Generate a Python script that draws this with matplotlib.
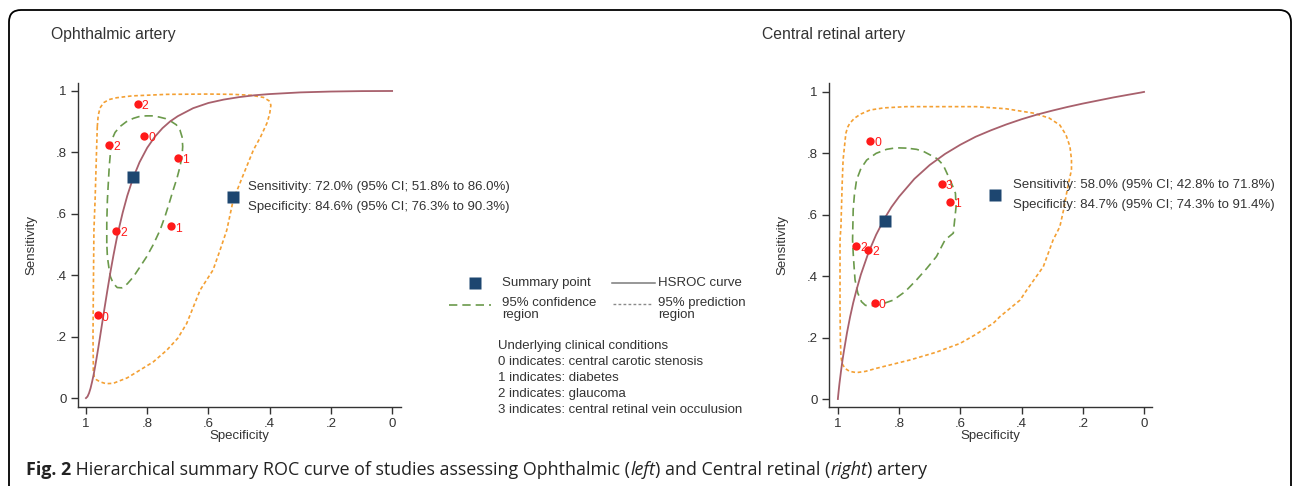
import matplotlib
matplotlib.use('Agg')
import matplotlib.pyplot as plt
from matplotlib.patches import FancyBboxPatch
from matplotlib.lines import Line2D
from matplotlib.transforms import IdentityTransform

plt.rcParams['font.family'] = ['Liberation Sans', 'DejaVu Sans']

# ---------------- data ----------------
# Ophthalmic artery
left_title = "Ophthalmic artery"
left_study_spec = [0.831, 0.810, 0.925, 0.699, 0.721, 0.901, 0.962]
left_study_sens = [0.957, 0.854, 0.824, 0.783, 0.559, 0.545, 0.269]
left_study_cond = ['2', '0', '2', '1', '1', '2', '0']
left_summary = (0.846, 0.720)
left_hsroc_spec = [1.0, 0.995, 0.99, 0.985, 0.98, 0.975, 0.97, 0.965, 0.96, 0.955, 0.95, 0.94,
                   0.93, 0.92, 0.91, 0.90, 0.89, 0.88, 0.865, 0.846, 0.825, 0.80, 0.775, 0.75,
                   0.725, 0.70, 0.65, 0.60, 0.55, 0.50, 0.45, 0.40, 0.30, 0.20, 0.10, 0.0]
left_hsroc_sens = [0.0, 0.005, 0.016, 0.032, 0.053, 0.076, 0.103, 0.132, 0.162, 0.193, 0.225, 0.289,
                   0.351, 0.411, 0.466, 0.517, 0.562, 0.604, 0.659, 0.717, 0.768, 0.815, 0.851, 0.879,
                   0.901, 0.918, 0.944, 0.961, 0.972, 0.980, 0.986, 0.990, 0.9954, 0.9982, 0.9996, 1.0]
left_conf_spec = [0.932, 0.932, 0.930, 0.927, 0.924, 0.920, 0.916, 0.905, 0.889, 0.868, 0.845,
                  0.822, 0.802, 0.780, 0.760, 0.740, 0.725, 0.705, 0.693, 0.686, 0.684, 0.686,
                  0.693, 0.703, 0.715, 0.728, 0.742, 0.758, 0.780, 0.802, 0.825, 0.845, 0.865,
                  0.883, 0.898, 0.911, 0.920, 0.924, 0.930, 0.932]
left_conf_sens = [0.504, 0.570, 0.645, 0.700, 0.753, 0.800, 0.840, 0.865, 0.884, 0.900, 0.911,
                  0.918, 0.919, 0.919, 0.915, 0.910, 0.903, 0.890, 0.873, 0.850, 0.819, 0.790,
                  0.753, 0.715, 0.678, 0.635, 0.591, 0.547, 0.500, 0.460, 0.425, 0.395, 0.372,
                  0.359, 0.360, 0.374, 0.395, 0.417, 0.460, 0.504]
left_pred_spec = [0.963, 0.960, 0.954, 0.942, 0.925, 0.900, 0.850, 0.736, 0.600, 0.519, 0.460,
                  0.420, 0.402, 0.396, 0.400, 0.409, 0.430, 0.453, 0.485, 0.519, 0.540, 0.562,
                  0.585, 0.627, 0.671, 0.700, 0.736, 0.780, 0.824, 0.865, 0.911, 0.935, 0.954,
                  0.966, 0.973, 0.976, 0.976, 0.977, 0.976, 0.974, 0.970, 0.967, 0.965, 0.963]
left_pred_sens = [0.884, 0.920, 0.945, 0.962, 0.972, 0.978, 0.984, 0.989, 0.990, 0.989, 0.986,
                  0.979, 0.968, 0.954, 0.925, 0.895, 0.850, 0.808, 0.730, 0.645, 0.547, 0.482,
                  0.417, 0.352, 0.243, 0.195, 0.156, 0.118, 0.091, 0.066, 0.048, 0.047, 0.053,
                  0.060, 0.069, 0.090, 0.113, 0.200, 0.330, 0.547, 0.650, 0.753, 0.820, 0.884]
left_text = ["Sensitivity: 72.0% (95% CI; 51.8% to 86.0%)",
             "Specificity: 84.6% (95% CI; 76.3% to 90.3%)"]
left_text_marker = (0.52, 0.655)

# Central retinal artery
right_title = "Central retinal artery"
right_study_spec = [0.895, 0.661, 0.633, 0.941, 0.901, 0.880]
right_study_sens = [0.840, 0.700, 0.642, 0.499, 0.484, 0.313]
right_study_cond = ['0', '3', '1', '2', '2', '0']
right_summary = (0.847, 0.580)
right_hsroc_spec = [1.0, 0.9997, 0.999, 0.998, 0.995, 0.99, 0.985, 0.98, 0.97, 0.96, 0.95, 0.94,
                    0.925, 0.90, 0.875, 0.847, 0.825, 0.80, 0.75, 0.70, 0.65, 0.60, 0.55, 0.50,
                    0.45, 0.40, 0.35, 0.30, 0.25, 0.20, 0.15, 0.10, 0.05, 0.01, 0.0]
right_hsroc_sens = [0.0, 0.004, 0.011, 0.021, 0.049, 0.089, 0.126, 0.158, 0.217, 0.268, 0.313, 0.352,
                    0.405, 0.477, 0.535, 0.589, 0.625, 0.659, 0.717, 0.762, 0.798, 0.828, 0.854, 0.875,
                    0.894, 0.911, 0.926, 0.939, 0.951, 0.962, 0.972, 0.982, 0.991, 0.998, 1.0]
right_conf_spec = [0.776, 0.810, 0.841, 0.875, 0.906, 0.925, 0.939, 0.946, 0.950, 0.952, 0.950,
                   0.947, 0.944, 0.935, 0.923, 0.910, 0.895, 0.860, 0.819, 0.780, 0.743, 0.710,
                   0.678, 0.650, 0.623, 0.614, 0.616, 0.629, 0.656, 0.675, 0.699, 0.720, 0.743, 0.776]
right_conf_sens = [0.817, 0.818, 0.813, 0.800, 0.778, 0.750, 0.713, 0.665, 0.616, 0.518, 0.475,
                   0.430, 0.388, 0.345, 0.317, 0.305, 0.303, 0.308, 0.322, 0.350, 0.388, 0.425,
                   0.464, 0.518, 0.540, 0.626, 0.670, 0.703, 0.762, 0.782, 0.795, 0.806, 0.813, 0.817]
right_pred_spec = [0.974, 0.968, 0.961, 0.945, 0.925, 0.895, 0.850, 0.776, 0.650, 0.547, 0.450,
                   0.362, 0.310, 0.275, 0.255, 0.242, 0.237, 0.237, 0.245, 0.253, 0.263, 0.275,
                   0.297, 0.329, 0.383, 0.405, 0.471, 0.492, 0.550, 0.601, 0.680, 0.765, 0.874,
                   0.910, 0.939, 0.962, 0.977, 0.986, 0.990, 0.992, 0.993, 0.993, 0.990, 0.986,
                   0.983, 0.974]
right_pred_sens = [0.865, 0.885, 0.898, 0.915, 0.928, 0.941, 0.948, 0.952, 0.952, 0.952, 0.945,
                   0.931, 0.915, 0.892, 0.860, 0.822, 0.780, 0.746, 0.710, 0.670, 0.615, 0.561,
                   0.518, 0.431, 0.355, 0.322, 0.268, 0.247, 0.210, 0.181, 0.152, 0.127, 0.100,
                   0.090, 0.086, 0.090, 0.100, 0.115, 0.138, 0.200, 0.300, 0.518, 0.561, 0.700,
                   0.778, 0.865]
right_text = ["Sensitivity: 58.0% (95% CI; 42.8% to 71.8%)",
              "Specificity: 84.7% (95% CI; 74.3% to 91.4%)"]
right_text_marker = (0.487, 0.663)

tick_vals = [1, 0.8, 0.6, 0.4, 0.2, 0]
tick_labels = ['1', '.8', '.6', '.4', '.2', '0']

legend_items = ["Summary point", "HSROC curve", "95% confidence\nregion", "95% prediction\nregion"]
conditions_title = "Underlying clinical conditions"
conditions = ["0 indicates: central carotic stenosis",
              "1 indicates: diabetes",
              "2 indicates: glaucoma",
              "3 indicates: central retinal vein occulusion"]

caption_parts = [("Fig. 2", 'bold', 'normal'),
                 (" Hierarchical summary ROC curve of studies assessing Ophthalmic (", 'normal', 'normal'),
                 ("left", 'normal', 'italic'),
                 (") and Central retinal (", 'normal', 'normal'),
                 ("right", 'normal', 'italic'),
                 (") artery", 'normal', 'normal')]

# ---------------- styling ----------------
C_HSROC = '#a8606c'
C_CONF = '#6b9a4b'
C_PRED = '#f4a033'
C_PT = '#ff1a1a'
C_SUM = '#1d4670'
C_TXT = '#333333'
FS = 9.5

W, H = 1292, 486
fig = plt.figure(figsize=(W / 100, H / 100), dpi=100)


def fx(px):
    return px / W


def fy(py):
    return 1 - py / H


# outer rounded border
border = FancyBboxPatch((9, 486 - 530), 1282, 520, boxstyle="round,pad=0,rounding_size=12",
                        transform=IdentityTransform(), fill=False, ec='black', lw=1.3)
fig.add_artist(border)


def make_axes(l, r, t, b):
    return fig.add_axes([fx(l), fy(b), (r - l) / W, (b - t) / H])


def draw_panel(ax, xlim, ylim, pred_s, pred_e, conf_s, conf_e, hs_s, hs_e,
               st_s, st_e, st_c, summ, texts, tmark, tx, ty):
    ax.set_xlim(*xlim)
    ax.set_ylim(*ylim)
    for sp in ['top', 'right']:
        ax.spines[sp].set_visible(False)
    for sp in ['left', 'bottom']:
        ax.spines[sp].set_color(C_TXT)
        ax.spines[sp].set_linewidth(1.0)
    ax.set_xticks(tick_vals)
    ax.set_xticklabels(tick_labels)
    ax.set_yticks(tick_vals)
    ax.set_yticklabels(tick_labels)
    ax.tick_params(direction='out', length=5, width=1, colors=C_TXT, labelsize=FS, pad=3)
    ax.set_xlabel("Specificity", fontsize=FS, color=C_TXT, labelpad=0)
    ax.set_ylabel("Sensitivity", fontsize=FS, color=C_TXT)
    ax.yaxis.set_label_coords(-0.125, 0.5)
    ax.patch.set_alpha(0)

    ax.plot(pred_s, pred_e, color=C_PRED, lw=1.2, ls=(0, (2.2, 1.6)), clip_on=False)
    ax.plot(conf_s, conf_e, color=C_CONF, lw=1.2, ls=(0, (5, 3)), clip_on=False)
    ax.plot(hs_s, hs_e, color=C_HSROC, lw=1.3, clip_on=False)
    ax.plot(st_s, st_e, 'o', color=C_PT, ms=6, mec='none', clip_on=False, zorder=5)
    for s, e, c in zip(st_s, st_e, st_c):
        ax.annotate(c, (s, e), xytext=(3, -1.5), textcoords='offset points',
                    color=C_PT, fontsize=8.8, va='center', ha='left')
    ax.plot([summ[0]], [summ[1]], 's', color=C_SUM, ms=8, mec='none', zorder=6)
    ax.plot([tmark[0]], [tmark[1]], 's', color=C_SUM, ms=8, mec='none', zorder=6)
    for i, t in enumerate(texts):
        fig.text(fx(tx), fy(ty + 20 * i), t, fontsize=FS, color=C_TXT, ha='left', va='center')


axL = make_axes(78, 401, 83, 407)
draw_panel(axL, (1.026, -0.029), (-0.029, 1.026), left_pred_spec, left_pred_sens,
           left_conf_spec, left_conf_sens, left_hsroc_spec, left_hsroc_sens,
           left_study_spec, left_study_sens, left_study_cond, left_summary,
           left_text, left_text_marker, 248, 187)
axR = make_axes(829, 1152, 83, 407)
draw_panel(axR, (1.029, -0.026), (-0.026, 1.029), right_pred_spec, right_pred_sens,
           right_conf_spec, right_conf_sens, right_hsroc_spec, right_hsroc_sens,
           right_study_spec, right_study_sens, right_study_cond, right_summary,
           right_text, right_text_marker, 1013, 185)

fig.text(fx(51), fy(35), left_title, fontsize=11.3, color=C_TXT, ha='left', va='center')
fig.text(fx(762), fy(35), right_title, fontsize=11.3, color=C_TXT, ha='left', va='center')

# ---------------- legend ----------------
fig.add_artist(Line2D([fx(475)], [fy(283)], marker='s', color=C_SUM, ms=8, mec='none', ls='none'))
fig.text(fx(502), fy(283), legend_items[0], fontsize=FS, color=C_TXT, va='center')
fig.add_artist(Line2D([fx(612), fx(655)], [fy(283), fy(283)], color='#7a7a7a', lw=1.1))
fig.text(fx(658), fy(283), legend_items[1], fontsize=FS, color=C_TXT, va='center')
fig.add_artist(Line2D([fx(449), fx(491)], [fy(305), fy(305)], color=C_CONF, lw=1.2, ls=(0, (5, 3))))
fig.text(fx(502), fy(309), legend_items[2], fontsize=FS, color=C_TXT, va='center', linespacing=1.05)
fig.add_artist(Line2D([fx(613), fx(653)], [fy(304), fy(304)], color='#8a8a8a', lw=1.0, ls=(0, (2, 1.6))))
fig.text(fx(658), fy(309), legend_items[3], fontsize=FS, color=C_TXT, va='center', linespacing=1.05)

fig.text(fx(498), fy(346), conditions_title, fontsize=FS, color=C_TXT, va='center')
for i, c in enumerate(conditions):
    fig.text(fx(498), fy(362 + 16 * i), c, fontsize=FS, color=C_TXT, va='center')

# ---------------- caption ----------------
renderer = fig.canvas.get_renderer()
x = 26
for txt, wt, st in caption_parts:
    t = fig.text(fx(x), fy(475), txt, fontsize=12.9, fontweight=wt, fontstyle=st,
                 family=['Open Sans', 'DejaVu Sans'], color='#222222', ha='left', va='baseline')
    bb = t.get_window_extent(renderer=renderer)
    x += bb.width

fig.savefig('out.png', dpi=100)
